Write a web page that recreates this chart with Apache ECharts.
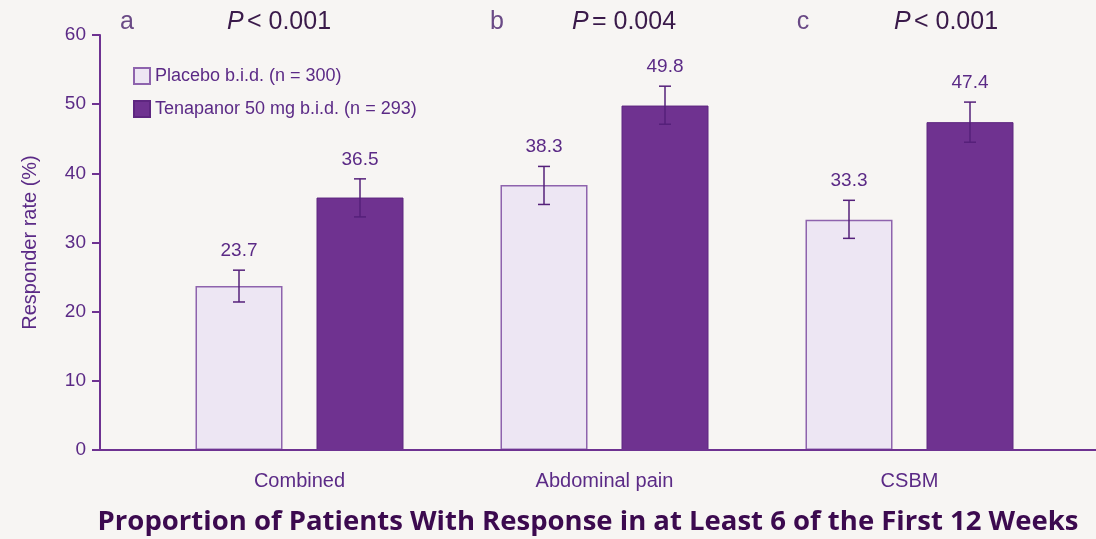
<!DOCTYPE html>
<html>
<head>
<meta charset="utf-8">
<script src="https://cdn.jsdelivr.net/npm/echarts@6/dist/echarts.min.js"></script>
<style>
html,body{margin:0;padding:0;background:#f7f5f3;}
#c{width:1096px;height:539px;}
</style>
</head>
<body>
<div id="c"></div>
<script>
// ---- data ----
var categories = ['Combined', 'Abdominal pain', 'CSBM'];
var placebo = [23.7, 38.3, 33.3];
var tenapanor = [36.5, 49.8, 47.4];
var placeboErrLow = [21.4, 35.5, 30.6];
var placeboErrHigh = [26.0, 41.0, 36.1];
var tenapanorErrLow = [33.7, 47.1, 44.5];
var tenapanorErrHigh = [39.2, 52.6, 50.3];
var panelLetters = ['a', 'b', 'c'];
var pValues = ['< 0.001', '= 0.004', '< 0.001'];
var yTicks = [0, 10, 20, 30, 40, 50, 60];

// ---- style constants ----
var BAR_W = 87, BAR_GAP = 34;
var purpleText = '#5b2a86';
var axisColor = '#6e3291';
var errColor = '#55207a';
var FONT = '"Liberation Sans", Arial, sans-serif';

var chart = echarts.init(document.getElementById('c'), null, {renderer: 'canvas'});

function errSeries(name, lows, highs, vals, offset) {
  return {
    type: 'custom',
    name: name + ' err',
    z: 5,
    silent: true,
    data: categories.map(function (c, i) { return [i, lows[i], highs[i], vals[i]]; }),
    encode: {x: 0, y: [1, 2]},
    renderItem: function (params, api) {
      var lo = api.coord([api.value(0), api.value(1)]);
      var hi = api.coord([api.value(0), api.value(2)]);
      var x = lo[0] + offset;
      var cap = 6;
      return {
        type: 'group',
        children: [
          {type: 'line', shape: {x1: x, y1: lo[1], x2: x, y2: hi[1]}, style: {stroke: errColor, lineWidth: 1.5}},
          {type: 'line', shape: {x1: x - cap, y1: lo[1], x2: x + cap, y2: lo[1]}, style: {stroke: errColor, lineWidth: 1.5}},
          {type: 'line', shape: {x1: x - cap, y1: hi[1], x2: x + cap, y2: hi[1]}, style: {stroke: errColor, lineWidth: 1.5}},
          {type: 'text', x: x, y: hi[1] - 10, style: {
            text: api.value(3).toFixed(1), fill: purpleText, font: '19px ' + FONT,
            align: 'center', verticalAlign: 'bottom'}}
        ]
      };
    }
  };
}

var off = (BAR_W + BAR_GAP) / 2;

var option = {
  backgroundColor: '#f7f5f3',
  animation: false,
  grid: {left: 147, right: 34, top: 35, bottom: 89, containLabel: false},
  legend: {
    orient: 'vertical', left: 133, top: 67, padding: 0, itemWidth: 16, itemHeight: 16, itemGap: 15,
    icon: 'rect',
    data: ['Placebo b.i.d. (n = 300)', 'Tenapanor 50 mg b.i.d. (n = 293)'],
    textStyle: {color: purpleText, fontSize: 18, fontFamily: FONT, padding: [0, 0, 0, 0]}
  },
  xAxis: {
    type: 'category', data: categories,
    axisLine: {show: false},
    axisTick: {show: false},
    axisLabel: {color: purpleText, fontSize: 20, fontFamily: FONT, margin: 21}
  },
  yAxis: {
    type: 'value', min: 0, max: 60, interval: 10, offset: 47,
    name: 'Responder rate (%)', nameLocation: 'middle', nameGap: 60, nameRotate: 90,
    nameTextStyle: {color: purpleText, fontSize: 20, fontFamily: FONT},
    axisLine: {show: true, lineStyle: {color: axisColor, width: 2}},
    axisTick: {show: true, length: 8, lineStyle: {color: axisColor, width: 2}},
    axisLabel: {color: purpleText, fontSize: 19, fontFamily: FONT, margin: 14,
      formatter: function (v) { return yTicks.indexOf(v) >= 0 ? String(v) : ''; }},
    splitLine: {show: false}
  },
  series: [
    {
      type: 'bar', name: 'Placebo b.i.d. (n = 300)', data: placebo,
      barWidth: BAR_W, barGap: (BAR_GAP / BAR_W * 100) + '%',
      itemStyle: {color: '#ede6f3', borderColor: '#8e63ad', borderWidth: 1.5}
    },
    {
      type: 'bar', name: 'Tenapanor 50 mg b.i.d. (n = 293)', data: tenapanor,
      barWidth: BAR_W,
      itemStyle: {color: '#6f3290', borderColor: '#5e2680', borderWidth: 1}
    },
    errSeries('Placebo', placeboErrLow, placeboErrHigh, placebo, -off),
    errSeries('Tenapanor', tenapanorErrLow, tenapanorErrHigh, tenapanor, off)
  ]
};
chart.setOption(option);

// annotations: panel letters, P values, x axis baseline, title
var y0 = chart.convertToPixel({yAxisIndex: 0}, 0);
var graphics = [
  {type: 'line', shape: {x1: 100, y1: y0, x2: 1096, y2: y0}, style: {stroke: axisColor, lineWidth: 2}, z: 10}
];
var letterX = [127, 497, 803];
var pX = [279, 624, 946];
for (var i = 0; i < categories.length; i++) {
  graphics.push({type: 'text', x: letterX[i], y: 22, style: {
    text: panelLetters[i], fill: '#6a4a86', font: '25px ' + FONT,
    align: 'center', verticalAlign: 'middle'}});
  graphics.push({type: 'text', x: pX[i], y: 22, style: {
    text: '{i|P} {n|' + pValues[i] + '}', align: 'center', verticalAlign: 'middle',
    rich: {
      i: {fill: '#3a1a4a', font: 'italic 25px ' + FONT},
      n: {fill: '#3a1a4a', font: '25px ' + FONT}
    }}});
}
graphics.push({type: 'text', x: 588, y: 522, style: {
  text: 'Proportion of Patients With Response in at Least 6 of the First 12 Weeks',
  fill: '#3c0a4f', font: 'bold 27.5px "Open Sans", Lato, sans-serif', align: 'center', verticalAlign: 'middle'}});
chart.setOption({graphic: graphics});
</script>
</body>
</html>
